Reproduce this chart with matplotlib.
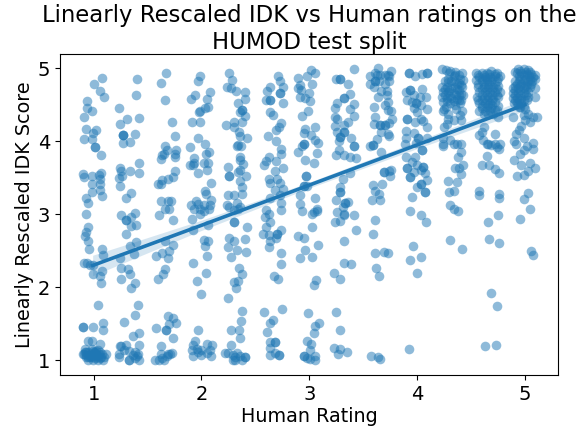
#!/usr/bin/env python3
import numpy as np
import matplotlib
matplotlib.use("Agg")
import matplotlib.pyplot as plt

OUTPUT_PLOT = "out.png"

# (jittered rating, rescaled score), one list per visible column of the strip
col_a = [(1.08,4.87),(1.00,4.79),(1.06,4.69),(1.10,4.61),(0.94,4.55),(0.94,4.45),(0.98,4.41),(0.91,4.34),
         (0.93,4.17),(1.02,4.16),(0.99,4.11),(0.91,4.03),(0.98,4.03),(1.01,3.92),(1.01,3.92),(1.07,3.81),
         (0.90,3.55),(0.98,3.53),(0.91,3.51),(1.07,3.56),(1.05,3.54),(1.06,3.48),(0.98,3.41),(1.06,3.41),
         (1.06,3.33),(0.98,3.30),(1.08,3.25),(0.93,3.23),(0.95,3.16),(0.93,3.00),(0.95,2.83),(0.93,2.76),
         (0.92,2.71),(0.95,2.63),(0.96,2.53),(1.08,2.52),(1.09,2.45),(0.91,2.34),(0.94,2.33),(0.97,2.31),
         (0.99,2.30),(1.08,2.23),(0.99,2.19),(1.06,2.15),(1.07,2.06),(1.04,1.76),(0.90,1.46),(0.90,1.46),
         (0.99,1.46),(1.09,1.51),(1.09,1.41),(0.95,1.26),(0.98,1.27),(1.06,1.22),(0.92,1.16),(0.91,1.09),
         (0.93,1.05),(0.95,1.12),(0.95,1.01),(0.98,1.15),(0.98,1.07),(1.01,1.11),(1.01,1.03),(1.03,1.07),
         (1.04,1.00),(1.06,1.12),(1.07,1.05),(1.10,1.05),(1.11,1.09),(0.97,1.05),(0.93,1.11),(0.99,1.00),
         (1.04,1.14),(1.09,1.00),(0.90,1.09),(0.93,1.08),(0.96,1.08),(0.99,1.09),(1.02,1.08),(1.05,1.09),
         (1.08,1.09),(0.95,1.04),(0.98,1.04),(1.03,1.04),(1.06,1.03),(0.92,1.12),(1.00,1.12),(0.99,1.13),
         (1.02,1.13)]
col_b = [(1.40,4.86),(1.39,4.63),(1.23,4.45),(1.42,4.32),(1.31,4.30),(1.24,4.24),(1.27,4.09),(1.27,4.09),
         (1.27,4.09),(1.38,4.10),(1.27,3.98),(1.34,3.99),(1.42,3.71),(1.24,3.63),(1.25,3.60),(1.34,3.60),
         (1.42,3.57),(1.23,3.50),(1.26,3.53),(1.24,3.39),(1.35,3.29),(1.30,3.23),(1.25,2.99),(1.38,3.02),
         (1.30,2.92),(1.30,2.92),(1.35,2.97),(1.39,2.86),(1.35,2.84),(1.30,2.73),(1.39,2.62),(1.34,2.57),
         (1.37,2.46),(1.24,2.40),(1.25,2.27),(1.32,2.25),(1.34,2.18),(1.25,2.11),(1.38,2.06),(1.35,1.99),
         (1.41,1.76),(1.38,1.62),(1.28,1.52),(1.42,1.37),(1.36,1.34),(1.24,1.20),(1.25,1.20),(1.30,1.21),
         (1.42,1.21),(1.23,1.09),(1.23,1.05),(1.33,1.13),(1.38,1.12),(1.36,1.07),(1.40,1.06),(1.33,1.01),
         (1.33,1.00),(1.38,1.03),(1.42,1.00),(1.28,1.14),(1.41,1.09)]
col_c = [(1.67,4.94),(1.62,4.80),(1.66,4.56),(1.73,4.26),(1.75,4.07),(1.66,3.93),(1.68,3.88),(1.76,3.88),
         (1.65,3.83),(1.63,3.81),(1.75,3.82),(1.75,3.78),(1.62,3.76),(1.75,3.60),(1.74,3.51),(1.69,3.49),
         (1.63,3.47),(1.62,3.42),(1.60,3.41),(1.62,3.18),(1.69,3.18),(1.72,3.18),(1.66,3.08),(1.70,3.07),
         (1.61,2.99),(1.74,2.92),(1.66,2.63),(1.74,2.58),(1.70,2.50),(1.63,2.47),(1.58,2.43),(1.69,2.40),
         (1.66,2.25),(1.64,2.18),(1.60,2.11),(1.69,1.61),(1.74,1.58),(1.76,1.51),(1.70,1.50),(1.58,1.45),
         (1.67,1.41),(1.67,1.41),(1.74,1.30),(1.62,1.20),(1.62,1.09),(1.57,1.01),(1.61,1.01),(1.63,1.03),
         (1.65,1.00),(1.68,1.06),(1.71,1.09),(1.73,1.10),(1.69,1.09)]
col_d = [(1.99,4.89),(1.97,4.82),(2.08,4.68),(1.94,4.64),(1.90,4.58),(2.05,4.58),(2.06,4.47),(2.03,4.46),
         (1.99,4.42),(1.98,4.40),(1.91,4.26),(1.99,4.26),(1.97,4.05),(2.03,3.97),(1.89,3.92),(2.07,3.86),
         (2.04,3.82),(1.93,3.77),(1.93,3.71),(1.89,3.67),(1.92,3.68),(2.02,3.70),(2.06,3.70),(2.05,3.61),
         (1.97,3.56),(2.09,3.43),(2.03,3.32),(2.04,3.28),(1.95,3.18),(2.09,3.19),(1.90,3.13),(1.97,3.14),
         (2.02,3.13),(2.08,3.13),(1.93,3.07),(1.99,3.07),(2.02,3.04),(2.07,3.07),(1.99,3.01),(1.91,2.94),
         (2.06,2.86),(1.92,2.78),(2.02,2.65),(2.06,2.64),(2.03,2.56),(2.05,2.43),(1.92,2.33),(2.04,2.20),
         (1.96,2.09),(2.00,1.91),(1.97,1.41),(1.94,1.26),(1.92,1.21),(1.91,1.14),(1.92,1.06),(1.96,1.16),
         (2.00,1.14),(2.00,1.07),(2.05,1.22),(2.10,1.21),(2.08,1.14),(2.09,1.06),(2.05,1.10),(1.97,1.12)]
col_e = [(2.26,4.93),(2.28,4.84),(2.24,4.74),(2.27,4.73),(2.32,4.69),(2.40,4.68),(2.40,4.58),(2.34,4.52),
         (2.38,4.43),(2.38,4.43),(2.36,4.40),(2.40,4.35),(2.38,4.27),(2.30,4.27),(2.23,4.22),(2.30,4.20),
         (2.35,4.13),(2.36,4.07),(2.42,4.05),(2.34,3.95),(2.33,3.93),(2.37,3.93),(2.36,3.78),(2.36,3.74),
         (2.39,3.69),(2.25,3.65),(2.36,3.61),(2.34,3.58),(2.26,3.52),(2.26,3.52),(2.41,3.52),(2.36,3.45),
         (2.38,3.38),(2.25,3.27),(2.30,3.27),(2.38,3.28),(2.33,3.16),(2.24,3.13),(2.26,3.10),(2.36,3.10),
         (2.30,3.06),(2.34,3.08),(2.30,2.90),(2.30,2.90),(2.42,2.82),(2.26,2.68),(2.30,2.64),(2.40,2.66),
         (2.25,2.55),(2.33,2.51),(2.41,2.49),(2.27,2.41),(2.35,2.26),(2.38,2.19),(2.34,2.09),(2.30,2.08),
         (2.32,1.99),(2.25,1.86),(2.38,1.68),(2.37,1.54),(2.27,1.42),(2.35,1.41),(2.36,1.31),(2.27,1.21),
         (2.22,1.10),(2.25,1.10),(2.33,1.10),(2.29,1.07),(2.31,1.05),(2.29,1.00),(2.40,1.05),(2.40,1.05),
         (2.38,1.01),(2.36,1.06),(2.31,1.00)]
col_f = [(2.71,4.90),(2.73,4.83),(2.76,4.74),(2.64,4.75),(2.61,4.69),(2.73,4.66),(2.73,4.66),(2.60,4.57),
         (2.64,4.57),(2.64,4.57),(2.76,4.53),(2.64,4.40),(2.66,4.36),(2.74,4.25),(2.72,4.19),(2.69,4.16),
         (2.62,4.07),(2.69,4.01),(2.74,3.89),(2.74,3.83),(2.63,3.79),(2.69,3.73),(2.60,3.73),(2.58,3.67),
         (2.76,3.64),(2.68,3.59),(2.63,3.48),(2.70,3.48),(2.64,3.43),(2.73,3.43),(2.76,3.35),(2.68,3.33),
         (2.73,3.27),(2.64,3.22),(2.74,3.15),(2.60,3.06),(2.74,3.06),(2.63,3.01),(2.59,2.97),(2.64,2.90),
         (2.60,2.83),(2.74,2.78),(2.57,2.73),(2.63,2.72),(2.70,2.73),(2.70,2.73),(2.69,2.67),(2.64,2.63),
         (2.63,2.55),(2.74,2.47),(2.74,2.32),(2.67,2.16),(2.71,2.11),(2.75,1.71),(2.58,1.66),(2.66,1.55),
         (2.64,1.51),(2.61,1.39),(2.64,1.25),(2.68,1.25),(2.68,1.25),(2.64,1.17),(2.64,1.07),(2.68,1.10),
         (2.72,1.08),(2.72,1.08)]
col_g = [(3.02,4.98),(3.05,4.94),(2.98,4.89),(2.90,4.87),(3.03,4.79),(2.91,4.77),(2.90,4.73),(2.92,4.70),
         (2.91,4.61),(3.00,4.66),(2.96,4.59),(3.01,4.55),(2.99,4.42),(2.93,4.35),(2.96,4.17),(3.05,4.19),
         (2.95,4.11),(3.02,4.09),(3.05,4.02),(3.08,3.98),(2.95,3.97),(2.95,3.97),(2.93,3.93),(2.90,3.85),
         (3.07,3.84),(2.96,3.75),(3.04,3.71),(2.97,3.52),(2.97,3.52),(2.95,3.39),(2.95,3.39),(2.98,3.39),
         (2.91,3.26),(3.05,3.23),(2.91,3.14),(3.07,3.07),(3.04,3.03),(2.93,3.04),(3.03,3.00),(3.07,3.04),
         (3.03,2.82),(2.90,2.70),(2.95,2.67),(3.08,2.58),(2.96,2.51),(2.91,2.40),(3.03,2.41),(3.06,2.10),
         (3.04,2.03),(2.99,1.65),(3.09,1.51),(3.05,1.47),(3.04,1.37),(2.98,1.27),(3.02,1.22),(3.01,1.14),
         (2.95,1.06),(2.95,1.06),(2.98,1.03),(3.05,1.06),(3.01,1.02),(3.05,1.00)]
col_h = [(3.42,4.99),(3.25,4.85),(3.29,4.85),(3.29,4.85),(3.36,4.79),(3.38,4.65),(3.32,4.60),(3.32,4.60),
         (3.26,4.52),(3.42,4.51),(3.24,4.46),(3.38,4.44),(3.42,4.35),(3.24,4.34),(3.26,4.30),(3.36,4.27),
         (3.32,4.22),(3.24,4.21),(3.26,4.13),(3.32,4.13),(3.32,4.13),(3.29,4.06),(3.29,4.06),(3.39,4.04),
         (3.28,4.01),(3.42,3.93),(3.42,3.93),(3.28,3.88),(3.25,3.81),(3.32,3.81),(3.38,3.79),(3.43,3.77),
         (3.38,3.56),(3.31,3.49),(3.29,3.38),(3.29,3.31),(3.29,3.31),(3.25,3.20),(3.33,3.15),(3.33,3.15),
         (3.31,3.10),(3.36,3.17),(3.26,3.03),(3.32,3.01),(3.32,2.99),(3.42,2.99),(3.29,2.91),(3.24,2.90),
         (3.43,2.78),(3.32,2.63),(3.32,2.34),(3.39,2.32),(3.23,2.20),(3.29,2.11),(3.25,1.66),(3.29,1.42),
         (3.23,1.17),(3.29,1.16),(3.27,1.09),(3.35,1.11)]
col_i = [(3.64,5.00),(3.56,4.89),(3.61,4.94),(3.63,4.91),(3.66,4.91),(3.70,4.91),(3.74,4.89),(3.56,4.79),
         (3.61,4.82),(3.61,4.82),(3.65,4.83),(3.70,4.79),(3.60,4.75),(3.67,4.69),(3.72,4.69),(3.64,4.61),
         (3.70,4.50),(3.60,4.47),(3.61,4.34),(3.66,4.22),(3.66,4.22),(3.70,4.22),(3.70,4.22),(3.60,4.24),
         (3.67,4.13),(3.73,4.10),(3.63,4.03),(3.59,3.95),(3.59,3.95),(3.56,3.93),(3.67,3.85),(3.74,3.60),
         (3.69,3.58),(3.69,3.58),(3.59,3.40),(3.68,3.41),(3.61,3.32),(3.65,3.28),(3.58,3.20),(3.66,3.19),
         (3.61,2.92),(3.59,2.73),(3.61,2.47),(3.69,2.49),(3.73,2.47),(3.62,2.27),(3.65,2.16),(3.57,1.06),
         (3.64,1.05),(3.66,1.02),(3.76,4.97),(3.73,4.91),(3.74,4.82),(3.72,4.63),(3.73,4.54),(3.76,4.41),
         (3.73,4.43),(3.77,4.31),(3.74,4.25),(3.74,4.07),(3.76,3.61),(3.75,3.52)]
col_j = [(3.93,4.94),(3.93,4.94),(3.98,4.89),(4.05,4.92),(4.09,4.94),(4.09,4.94),(3.90,4.68),(3.94,4.70),
         (3.94,4.70),(4.05,4.72),(3.97,4.63),(3.91,4.57),(4.03,4.61),(4.08,4.61),(3.95,4.54),(3.99,4.52),
         (3.99,4.52),(4.04,4.50),(4.09,4.44),(3.97,4.46),(4.00,4.40),(3.91,4.31),(3.91,4.31),(4.04,4.31),
         (3.98,4.27),(4.06,4.28),(4.09,4.20),(3.90,4.14),(3.97,4.12),(3.90,4.04),(4.01,4.04),(4.01,4.04),
         (4.09,4.04),(3.89,3.97),(3.99,3.98),(4.05,3.88),(4.05,3.88),(3.90,3.78),(3.98,3.79),(3.95,3.72),
         (4.00,3.68),(4.06,3.65),(4.06,3.65),(3.91,3.63),(3.91,3.63),(4.04,3.61),(3.97,3.58),(4.07,3.57),
         (3.94,3.51),(3.94,3.51),(4.09,3.47),(4.04,3.42),(4.04,3.42),(4.00,3.38),(4.07,3.31),(4.07,3.31),
         (3.95,3.24),(3.94,3.05),(4.04,2.99),(4.08,2.89),(3.96,2.57),(4.04,2.42),(3.94,2.38),(4.00,2.20),
         (3.93,1.16)]
col_k = [(4.23,4.99),(4.27,4.98),(4.31,4.97),(4.35,4.95),(4.42,4.94),(4.34,4.89),(4.29,4.86),(4.40,4.86),
         (4.43,4.84),(4.32,4.82),(4.26,4.82),(4.37,4.79),(4.41,4.77),(4.23,4.75),(4.28,4.75),(4.32,4.73),
         (4.37,4.71),(4.42,4.75),(4.24,4.68),(4.29,4.67),(4.34,4.66),(4.39,4.63),(4.43,4.63),(4.23,4.61),
         (4.28,4.60),(4.32,4.59),(4.37,4.58),(4.41,4.57),(4.24,4.54),(4.31,4.52),(4.35,4.50),(4.40,4.52),
         (4.25,4.44),(4.24,4.41),(4.29,4.38),(4.36,4.44),(4.42,4.41),(4.40,4.36),(4.29,4.31),(4.34,4.29),
         (4.41,4.29),(4.28,4.24),(4.25,4.20),(4.24,4.04),(4.24,3.93),(4.31,4.02),(4.34,3.97),(4.37,3.97),
         (4.41,3.97),(4.24,3.97),(4.41,3.85),(4.38,3.78),(4.43,3.68),(4.35,3.63),(4.39,3.63),(4.41,3.55),
         (4.29,3.45),(4.37,3.44),(4.30,3.31),(4.34,3.32),(4.31,3.13),(4.34,3.07),(4.38,3.05),(4.31,2.65),
         (4.42,2.53),(4.30,4.93),(4.35,4.91),(4.39,4.91),(4.29,4.81),(4.34,4.82),(4.39,4.80),(4.26,4.72),
         (4.30,4.70),(4.35,4.74),(4.39,4.70),(4.26,4.63),(4.31,4.62),(4.36,4.64),(4.41,4.65),(4.28,4.55),
         (4.34,4.55),(4.39,4.56),(4.27,4.47)]
col_l = [(4.55,4.94),(4.60,4.94),(4.65,4.94),(4.69,4.97),(4.74,4.94),(4.77,4.89),(4.58,4.88),(4.63,4.88),
         (4.68,4.88),(4.72,4.89),(4.55,4.84),(4.60,4.82),(4.65,4.82),(4.69,4.82),(4.74,4.83),(4.57,4.75),
         (4.62,4.75),(4.66,4.75),(4.71,4.75),(4.75,4.76),(4.58,4.68),(4.63,4.68),(4.68,4.68),(4.72,4.68),
         (4.77,4.68),(4.57,4.57),(4.62,4.59),(4.66,4.61),(4.71,4.60),(4.75,4.61),(4.58,4.52),(4.63,4.53),
         (4.68,4.53),(4.72,4.54),(4.60,4.45),(4.65,4.47),(4.69,4.46),(4.74,4.43),(4.58,4.41),(4.62,4.38),
         (4.66,4.38),(4.71,4.38),(4.75,4.34),(4.62,4.20),(4.60,4.13),(4.58,4.09),(4.61,4.02),(4.72,4.10),
         (4.65,3.96),(4.66,3.97),(4.69,3.95),(4.72,3.97),(4.77,3.97),(4.74,3.92),(4.76,3.89),(4.65,3.80),
         (4.60,3.68),(4.67,3.68),(4.72,3.62),(4.76,3.57),(4.58,3.32),(4.58,3.26),(4.76,3.28),(4.76,3.23),
         (4.75,2.99),(4.66,2.89),(4.67,2.66),(4.76,2.61),(4.69,1.92),(4.74,1.75),(4.63,1.20),(4.73,1.21),
         (4.57,4.91),(4.62,4.91),(4.67,4.92),(4.72,4.92),(4.75,4.87),(4.60,4.86),(4.65,4.85),(4.70,4.85),
         (4.57,4.79),(4.62,4.79),(4.67,4.79),(4.72,4.79),(4.60,4.72),(4.65,4.72),(4.70,4.72),(4.74,4.72),
         (4.60,4.64),(4.65,4.64),(4.70,4.64),(4.74,4.64),(4.56,4.61),(4.60,4.57),(4.65,4.56),(4.70,4.57),
         (4.60,4.49),(4.66,4.50),(4.70,4.50),(4.75,4.49),(4.63,4.42),(4.68,4.42),(4.72,4.43)]
col_m = [(4.94,4.99),(4.99,4.99),(5.03,4.98),(4.93,4.93),(4.97,4.93),(5.02,4.92),(5.06,4.92),(5.10,4.91),
         (4.96,4.86),(5.00,4.86),(5.05,4.84),(5.10,4.85),(4.93,4.79),(4.97,4.79),(5.02,4.79),(5.06,4.79),
         (4.89,4.73),(4.94,4.73),(4.99,4.73),(4.89,4.66),(4.94,4.66),(4.99,4.66),(5.03,4.68),(5.10,4.73),
         (4.93,4.59),(4.97,4.59),(5.03,4.61),(5.10,4.61),(4.93,4.52),(4.97,4.52),(5.02,4.57),(4.96,4.47),
         (4.89,4.34),(4.99,4.36),(5.03,4.38),(5.08,4.34),(5.11,4.33),(5.00,4.29),(5.05,4.27),(4.97,4.21),
         (4.95,4.15),(4.92,4.10),(4.90,4.00),(4.92,3.96),(4.99,4.05),(5.08,3.98),(5.08,3.89),(5.02,3.93),
         (4.99,3.88),(4.96,3.83),(4.90,3.75),(4.97,3.67),(5.05,3.70),(5.10,3.63),(5.03,3.60),(4.99,3.54),
         (4.93,3.53),(5.03,3.29),(4.99,3.21),(5.05,3.07),(4.96,2.94),(5.06,2.50),(5.08,2.45),
         (4.91,4.95),(4.96,4.97),(5.01,4.95),(5.05,4.95),(4.95,4.90),(4.99,4.91),(5.04,4.89),(5.08,4.88),
         (4.91,4.83),(4.95,4.83),(4.99,4.84),(5.03,4.82),(5.07,4.82),(4.91,4.76),(4.96,4.76),(5.01,4.76),
         (5.05,4.75),(4.91,4.70),(4.96,4.70),(5.01,4.71),(4.91,4.63),(4.96,4.63),(5.01,4.63),(4.91,4.56),
         (4.95,4.56),(4.99,4.56),(4.94,4.50),(4.99,4.49),(4.89,4.60),(4.90,4.52),(5.00,4.44),(4.95,4.47)]

columns = [col_a, col_b, col_c, col_d, col_e, col_f, col_g, col_h, col_i, col_j, col_k, col_l, col_m]

# fitted line and its confidence band
fit_x = [0.99, 2.0, 3.0, 4.0, 5.0]
fit_y = [2.30, 2.85, 3.40, 3.95, 4.50]
fit_lo = [2.16, 2.78, 3.36, 3.90, 4.42]
fit_hi = [2.44, 2.92, 3.44, 4.00, 4.58]

ticks = [1, 2, 3, 4, 5]

pts = np.array([p for col in columns for p in col])

fig = plt.figure(figsize=(5.87, 4.30), dpi=100)
ax = fig.add_axes([60 / 587, 1 - 375 / 430, 498 / 587, 321 / 430])

ax.scatter(pts[:, 0], pts[:, 1], s=48, color="#1f77b4", alpha=0.5, linewidths=0)
ax.fill_between(fit_x, fit_lo, fit_hi, color="#1f77b4", alpha=0.18, linewidth=0)
ax.plot(fit_x, fit_y, color="#1f77b4", linewidth=2.6)

ax.set_xlim(0.687, 5.309)
ax.set_ylim(0.80, 5.196)
ax.set_xticks(ticks)
ax.set_yticks(ticks)
ax.tick_params(labelsize=14)

ax.set_xlabel("Human Rating", fontsize=13.8, labelpad=2)
ax.set_ylabel("Linearly Rescaled IDK Score", fontsize=13.8, labelpad=2.5)
ax.set_title("Linearly Rescaled IDK vs Human ratings on the\nHUMOD test split", fontsize=16.4, pad=3)

plt.savefig(OUTPUT_PLOT, dpi=100)
